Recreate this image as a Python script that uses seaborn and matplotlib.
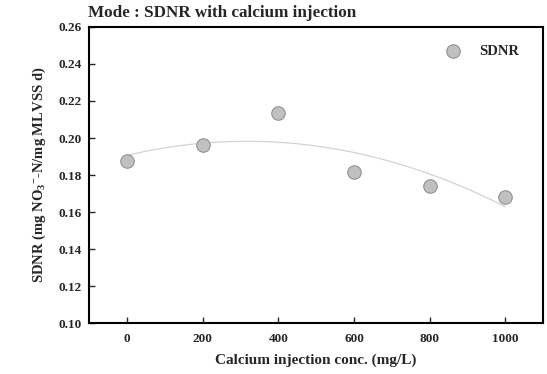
import numpy as np
import pandas as pd
import matplotlib
matplotlib.use("Agg")
import matplotlib.pyplot as plt
import seaborn as sns

# Data
conc = [0, 200, 400, 600, 800, 1000]
sdnr = [0.1876, 0.1962, 0.2133, 0.1814, 0.1743, 0.1683]

df = pd.DataFrame({"conc": conc, "SDNR": sdnr})

sns.set_style("ticks")
plt.rcParams['font.family'] = ['Liberation Serif', 'DejaVu Serif']
plt.rcParams['font.weight'] = 'bold'
plt.rcParams['mathtext.fontset'] = 'custom'
plt.rcParams['mathtext.rm'] = 'Liberation Serif:bold'
plt.rcParams['mathtext.it'] = 'Liberation Serif:bold'
plt.rcParams['mathtext.bf'] = 'Liberation Serif:bold'
plt.rcParams['mathtext.default'] = 'bf'

fig = plt.figure(figsize=(5.47, 3.74), dpi=100)
ax = fig.add_axes([0.163, 0.136, 0.830, 0.792])

# 2nd order fit line
coef = np.polyfit(df['conc'], df['SDNR'], 2)
xs = np.linspace(0, 1000, 200)
ax.plot(xs, np.polyval(coef, xs), color='#d2d2d2', lw=0.9, zorder=1)

sns.scatterplot(data=df, x='conc', y='SDNR', ax=ax, s=95, color='#c0c0c0',
                edgecolor='#8a8a8a', linewidth=0.7, zorder=3, label='SDNR')

ax.set_xlim(-100, 1100)
ax.set_ylim(0.10, 0.26)
ax.set_xticks([0, 200, 400, 600, 800, 1000])
yt = np.arange(0.10, 0.261, 0.02)
ax.set_yticks(yt)
ax.set_yticklabels([f"{v:.2f}" for v in yt])
ax.tick_params(direction='in', length=4, width=1, labelsize=9.5)
ax.tick_params(axis='y', pad=5)
ax.tick_params(axis='x', pad=7)
for lab in ax.get_xticklabels() + ax.get_yticklabels():
    lab.set_fontweight('bold')
for sp in ax.spines.values():
    sp.set_linewidth(1.5)
    sp.set_color('black')

ax.set_xlabel("Calcium injection conc. (mg/L)", fontsize=11, fontweight='bold', labelpad=6)
ax.set_ylabel(r"SDNR (mg NO$_3$$^{\mathbf{-}}$-N/mg MLVSS d)", fontsize=10.5,
              fontweight='bold', labelpad=8)

fig.text(0.161, 0.955, "Mode : SDNR with calcium injection", fontsize=12.3, fontweight='bold', ha='left')

leg = ax.legend(loc='upper right', bbox_to_anchor=(0.975, 0.985), frameon=False,
                prop={'weight': 'bold', 'size': 10.5}, handletextpad=0.8, markerscale=1.0)

fig.savefig("out.png", dpi=100)
